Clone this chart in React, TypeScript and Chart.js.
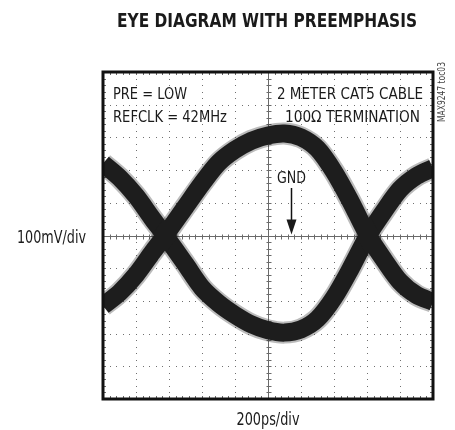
import React, { useEffect, useRef } from "react";
import { Chart, registerables } from "chart.js";

Chart.register(...registerables);

// time axis: 10 div x 200 ps, voltage axis: 10 div x 100 mV
const timePs = [0, 100, 200, 300, 376, 500, 600, 700, 800, 900, 1000, 1100, 1200, 1300, 1400, 1500, 1606, 1700, 1800, 1900, 2000];
// trace that rises through the left crossing, peaks, falls through the right crossing
const upperTraceMv = [-215, -175, -120, -51, 0, 88, 159, 222, 262, 290, 306, 312, 300, 265, 195, 105, 0, -72, -141, -182, -203];
// trace that falls through the left crossing, bottoms out, rises through the right crossing
const lowerTraceMv = [220, 177, 121, 51, 0, -88, -160, -207, -243, -272, -290, -297, -287, -255, -190, -102, 0, 72, 141, 182, 206];

const xDivs = [0, 200, 400, 600, 800, 1000, 1200, 1400, 1600, 1800, 2000];
const yDivs = [-500, -400, -300, -200, -100, 0, 100, 200, 300, 400, 500];

const titleText = "EYE DIAGRAM WITH PREEMPHASIS";
const yLabel = "100mV/div";
const xLabel = "200ps/div";
const noteLeft = ["PRE = LOW", "REFCLK = 42MHz"];
const noteRight = ["2 METER CAT5 CABLE", "100\u03A9 TERMINATION"];
const gndLabel = "GND";
const gndArrowTimePs = 1139;
const tocLabel = "MAX9247 toc03";

const NARROW = '"Liberation Sans Narrow", "DejaVu Sans Condensed", "Arial Narrow", sans-serif';

// draws text horizontally fitted to a given width (condensed face emulation)
function drawFit(ctx: CanvasRenderingContext2D, text: string, left: number, baseline: number, width: number) {
  const m = ctx.measureText(text).width;
  ctx.save();
  ctx.translate(left, baseline);
  ctx.scale(width / m, 1);
  ctx.textAlign = "left";
  ctx.fillText(text, 0, 0);
  ctx.restore();
}

const scopePlugin = {
  id: "scopeDecor",
  beforeDatasetsDraw(chart: any) {
    const { ctx, chartArea: a, scales } = chart;
    const x = scales.x;
    const y = scales.y;
    ctx.save();
    // dotted grid
    ctx.fillStyle = "#707070";
    for (let i = 1; i < xDivs.length - 1; i++) {
      if (xDivs[i] === 1000) continue;
      const px = Math.round(x.getPixelForValue(xDivs[i]));
      for (let v = -500; v <= 500; v += 20) {
        const py = Math.round(y.getPixelForValue(v));
        ctx.fillRect(px, py, 1, 1);
      }
    }
    for (let j = 1; j < yDivs.length - 1; j++) {
      if (yDivs[j] === 0) continue;
      const py = Math.round(y.getPixelForValue(yDivs[j]));
      for (let t = 0; t <= 2000; t += 40) {
        const px = Math.round(x.getPixelForValue(t));
        ctx.fillRect(px, py, 1, 1);
      }
    }
    // center cross lines with minor ticks, plus frame ticks
    const cx = Math.round(x.getPixelForValue(1000)) + 0.5;
    const cy = Math.round(y.getPixelForValue(0)) + 0.5;
    ctx.strokeStyle = "#6a6a6a";
    ctx.lineWidth = 1;
    ctx.beginPath();
    ctx.moveTo(cx, a.top);
    ctx.lineTo(cx, a.bottom);
    ctx.moveTo(a.left, cy);
    ctx.lineTo(a.right, cy);
    for (let t = 0; t <= 2000; t += 40) {
      const px = Math.round(x.getPixelForValue(t)) + 0.5;
      ctx.moveTo(px, cy - 2);
      ctx.lineTo(px, cy + 3);
      ctx.moveTo(px, a.top);
      ctx.lineTo(px, a.top + 3);
      ctx.moveTo(px, a.bottom);
      ctx.lineTo(px, a.bottom - 3);
    }
    for (let v = -500; v <= 500; v += 20) {
      const py = Math.round(y.getPixelForValue(v)) + 0.5;
      ctx.moveTo(cx - 2, py);
      ctx.lineTo(cx + 3, py);
      ctx.moveTo(a.left, py);
      ctx.lineTo(a.left + 3, py);
      ctx.moveTo(a.right, py);
      ctx.lineTo(a.right - 3, py);
    }
    ctx.stroke();
    ctx.restore();
  },
  afterDatasetsDraw(chart: any) {
    const { ctx, chartArea: a, scales } = chart;
    const x = scales.x;
    const y = scales.y;
    ctx.save();
    // frame
    ctx.strokeStyle = "#111";
    ctx.lineWidth = 3;
    ctx.strokeRect(a.left, a.top, a.right - a.left, a.bottom - a.top);

    ctx.fillStyle = "#1a1a1a";
    ctx.textBaseline = "alphabetic";
    // title
    ctx.font = `bold 20px ${NARROW}`;
    drawFit(ctx, titleText, 117, 27, 300);
    // notes
    ctx.font = `16px ${NARROW}`;
    drawFit(ctx, noteLeft[0], 113, 99, 74);
    drawFit(ctx, noteLeft[1], 113, 122, 114);
    drawFit(ctx, noteRight[0], 277, 99, 146);
    drawFit(ctx, noteRight[1], 285, 122, 135);
    // GND + arrow
    const ax = Math.round(x.getPixelForValue(gndArrowTimePs)) + 0.5;
    const ay = y.getPixelForValue(0);
    drawFit(ctx, gndLabel, ax - 14.5, 183, 29);
    ctx.strokeStyle = "#111";
    ctx.lineWidth = 1.5;
    ctx.beginPath();
    ctx.moveTo(ax, 188);
    ctx.lineTo(ax, ay - 14);
    ctx.stroke();
    ctx.beginPath();
    ctx.moveTo(ax - 5, ay - 16);
    ctx.lineTo(ax + 5, ay - 16);
    ctx.lineTo(ax, ay - 1);
    ctx.closePath();
    ctx.fill();
    // axis labels
    ctx.font = `18px ${NARROW}`;
    drawFit(ctx, yLabel, 17, 243, 69);
    drawFit(ctx, xLabel, (a.left + a.right) / 2 - 31.5, 425, 63);
    // toc label
    ctx.save();
    ctx.translate(445, 122);
    ctx.rotate(-Math.PI / 2);
    ctx.font = `10px ${NARROW}`;
    ctx.fillStyle = "#444";
    drawFit(ctx, tocLabel, 0, 0, 60);
    ctx.restore();
    ctx.restore();
  },
};

function toPoints(vals: number[]) {
  return timePs.map((t, i) => ({ x: t, y: vals[i] }));
}

export default function App() {
  const ref = useRef<HTMLCanvasElement | null>(null);
  useEffect(() => {
    if (!ref.current) return;
    const base = {
      pointRadius: 0,
      fill: false,
      tension: 0.3,
      clip: 0,
    };
    const chart = new Chart(ref.current, {
      type: "line",
      data: {
        datasets: [
          { ...base, data: toPoints(upperTraceMv), borderColor: "rgba(30,30,30,0.3)", borderWidth: 22 },
          { ...base, data: toPoints(lowerTraceMv), borderColor: "rgba(30,30,30,0.3)", borderWidth: 22 },
          { ...base, data: toPoints(upperTraceMv), borderColor: "#1e1e1e", borderWidth: 18 },
          { ...base, data: toPoints(lowerTraceMv), borderColor: "#1e1e1e", borderWidth: 18 },
        ],
      },
      options: {
        responsive: false,
        animation: false,
        events: [],
        layout: { padding: { left: 103, top: 72, right: 22, bottom: 31 } },
        scales: {
          x: { type: "linear", min: 0, max: 2000, display: false },
          y: { type: "linear", min: -500, max: 500, display: false },
        },
        plugins: { legend: { display: false }, tooltip: { enabled: false }, title: { display: false } },
      },
      plugins: [scopePlugin],
    });
    return () => chart.destroy();
  }, []);
  return (
    <div style={{ position: "fixed", left: 0, top: 0, width: 455, height: 430, background: "#fff" }}>
      <canvas ref={ref} width={455} height={430} style={{ display: "block" }} />
    </div>
  );
}
